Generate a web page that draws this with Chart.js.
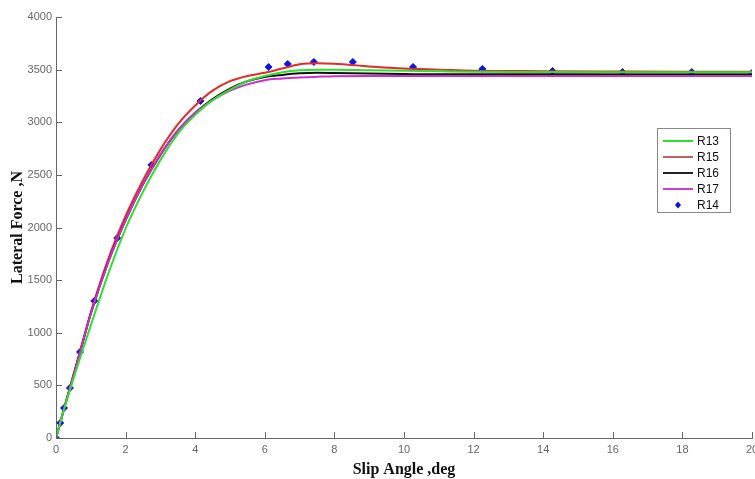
<!DOCTYPE html>
<html>
<head>
<meta charset="utf-8">
<script src="https://cdn.jsdelivr.net/npm/chart.js@4.4.0/dist/chart.umd.min.js"></script>
<style>
html,body{margin:0;padding:0;background:#fff;overflow:hidden;}
#wrap{position:absolute;left:0;top:0;width:775px;height:479px;}
</style>
</head>
<body>
<div id="wrap"><canvas id="c" width="775" height="479"></canvas></div>
<script>
// Slip angle (deg) sample points for the curves
const slipX = [0,0.25,0.5,0.75,1,1.5,2,2.5,3,3.5,4,4.5,5,5.5,6,6.5,7,7.5,8,9,10,11,12,14,16,18,20];
const r13 = [0,295,560,820,1070,1560,1990,2340,2640,2890,3070,3210,3310,3390,3440,3475,3495,3500,3500,3495,3490,3485,3480,3478,3476,3475,3475];
const r15 = [0,305,600,895,1195,1700,2110,2450,2740,2980,3160,3300,3390,3440,3470,3510,3550,3560,3555,3530,3510,3500,3490,3485,3482,3480,3480];
const r16 = [0,300,590,885,1180,1670,2070,2410,2690,2920,3090,3220,3320,3390,3430,3450,3465,3470,3468,3462,3458,3455,3455,3455,3455,3455,3455];
const r17 = [0,300,590,885,1180,1670,2070,2410,2690,2920,3090,3210,3300,3360,3400,3415,3425,3432,3438,3440,3440,3440,3440,3440,3440,3440,3440];
// R14 measured points
const r14X = [0,0.12,0.23,0.40,0.69,1.1,1.76,2.74,4.15,6.11,6.66,7.41,8.53,10.26,12.25,14.27,16.28,18.27,20];
const r14Y = [0,143,285,475,817,1302,1900,2594,3202,3525,3554,3573,3573,3525,3506,3487,3477,3477,3468];
const xTicks = [0,2,4,6,8,10,12,14,16,18,20];
const yTicks = [0,500,1000,1500,2000,2500,3000,3500,4000];

const pts = (xs, ys) => xs.map((x, i) => ({x: x, y: ys[i]}));
const lineDs = (label, ys, color) => ({
  label, data: pts(slipX, ys), borderColor: color, backgroundColor: color, showLine: true,
  borderWidth: 2, pointRadius: 0, cubicInterpolationMode: 'monotone', fill: false
});

const datasets = [
  lineDs('R13', r13, '#2ee02e'),
  lineDs('R17', r17, '#cc30cc'),
  lineDs('R16', r16, '#111111'),
  lineDs('R15', r15, '#e42a2a'),
  {label: 'R14', data: pts(r14X, r14Y), showLine: false, pointStyle: 'rectRot',
   pointRadius: 3.5, backgroundColor: '#0a14e6', borderColor: '#0a14e6', borderWidth: 1}
];
const legendOrder = [
  {label: 'R13', color: '#2ee02e', type: 'line'},
  {label: 'R15', color: '#c46060', type: 'line'},
  {label: 'R16', color: '#222222', type: 'line'},
  {label: 'R17', color: '#d040d0', type: 'line'},
  {label: 'R14', color: '#0a14e6', type: 'point'}
];

const innerTicks = {
  id: 'innerTicks',
  afterDraw(chart) {
    const ctx = chart.ctx, a = chart.chartArea;
    const xs = chart.scales.x, ys = chart.scales.y;
    ctx.save();
    ctx.strokeStyle = '#666'; ctx.lineWidth = 1;
    ctx.beginPath();
    xs.ticks.forEach(t => { const p = Math.round(xs.getPixelForValue(t.value)) + 0.5; ctx.moveTo(p, a.bottom); ctx.lineTo(p, a.bottom - 6); });
    ys.ticks.forEach(t => { const p = Math.round(ys.getPixelForValue(t.value)) + 0.5; ctx.moveTo(a.left, p); ctx.lineTo(a.left + 6, p); });
    ctx.stroke();
    // legend box
    const bx = 657, by = 128, bw = 73, bh = 84;
    ctx.fillStyle = '#fff'; ctx.fillRect(bx, by, bw, bh);
    ctx.strokeStyle = '#888'; ctx.strokeRect(bx + 0.5, by + 0.5, bw, bh);
    ctx.font = '12px "Liberation Sans", Arial, sans-serif';
    ctx.textBaseline = 'middle'; ctx.textAlign = 'left';
    legendOrder.forEach((e, i) => {
      const y = by + 13 + i * 16;
      if (e.type === 'line') {
        ctx.strokeStyle = e.color; ctx.lineWidth = 2;
        ctx.beginPath(); ctx.moveTo(663, y); ctx.lineTo(693, y); ctx.stroke();
      } else {
        ctx.fillStyle = e.color;
        ctx.beginPath(); ctx.moveTo(678, y - 3.5); ctx.lineTo(681, y); ctx.lineTo(678, y + 3.5); ctx.lineTo(675, y); ctx.closePath(); ctx.fill();
      }
      ctx.fillStyle = '#111';
      ctx.fillText(e.label, 697, y + 1);
    });
    ctx.restore();
  }
};

const plainNum = v => String(v);

new Chart(document.getElementById('c'), {
  type: 'scatter',
  data: {datasets},
  options: {
    responsive: false, animation: false,
    layout: {padding: {top: 17, right: 23, bottom: 0, left: 0}},
    plugins: {legend: {display: false}, tooltip: {enabled: false}},
    scales: {
      x: {
        type: 'linear', min: 0, max: 20,
        afterBuildTicks: s => { s.ticks = xTicks.map(v => ({value: v})); },
        afterFit: s => { s.height = 41; },
        grid: {display: true, drawOnChartArea: false, drawTicks: false},
        border: {display: true, color: '#666', width: 1},
        ticks: {padding: 5, color: '#666', callback: plainNum, font: {family: '"Liberation Sans", Arial, sans-serif', size: 11}, maxRotation: 0, autoSkip: false},
        title: {display: true, text: 'Slip Angle ,deg', color: '#111', padding: {top: 1, bottom: 0},
                font: {family: '"Liberation Serif", "Times New Roman", serif', size: 16, weight: 'bold'}}
      },
      y: {
        type: 'linear', min: 0, max: 4000,
        afterBuildTicks: s => { s.ticks = yTicks.map(v => ({value: v})); },
        afterFit: s => { s.width = 56; },
        grid: {display: true, drawOnChartArea: false, drawTicks: false},
        border: {display: true, color: '#666', width: 1},
        ticks: {padding: 4, color: '#666', callback: plainNum, font: {family: '"Liberation Sans", Arial, sans-serif', size: 11}, autoSkip: false},
        title: {display: true, text: 'Lateral Force ,N', color: '#111', padding: {top: 8, bottom: 0},
                font: {family: '"Liberation Serif", "Times New Roman", serif', size: 16, weight: 'bold'}}
      }
    }
  },
  plugins: [innerTicks]
});
</script>
</body>
</html>
